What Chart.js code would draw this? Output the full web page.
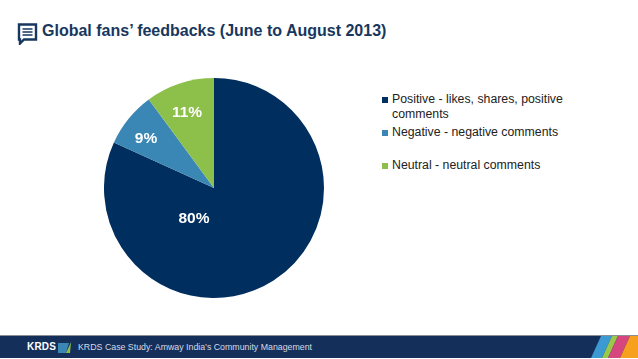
<!DOCTYPE html>
<html>
<head>
<meta charset="utf-8">
<title>Global fans' feedbacks</title>
<script src="https://cdn.jsdelivr.net/npm/chart.js@4"></script>
<style>
    html, body { margin: 0; padding: 0; background: #fff; }
    body { width: 638px; height: 359px; position: relative; overflow: hidden; font-family: "Liberation Sans", Arial, sans-serif; }
    #pie-wrap { position: absolute; left: 104px; top: 78px; width: 220px; height: 220px; }
    #title { position: absolute; left: 42px; top: 22px; font-size: 16px; font-weight: bold; color: #17375e; white-space: nowrap; }
    #icon { position: absolute; left: 17px; top: 23px; }
    #legend { position: absolute; left: 392px; top: 0; width: 190px; font-size: 12.3px; line-height: 15px; color: #222; }
    #legend div { position: absolute; left: 0; width: 180px; }
    #legend i { position: absolute; left: -10px; top: 5px; width: 6px; height: 6px; }
    #footer { position: absolute; left: 0; top: 335px; width: 638px; height: 23px; background: #152f5b; border-top: 1px solid #8a8f99; box-sizing: border-box; }
    #footer .logo { position: absolute; left: 27px; top: 5px; font-size: 10px; font-weight: bold; color: #fff; letter-spacing: .2px; }
    #footer .note { position: absolute; left: 78px; top: 6px; font-size: 8.8px; color: #d5dae4; white-space: nowrap; }
    #footer svg { position: absolute; left: 0; top: 0; }
</style>
</head>
<body>
<svg id="icon" width="21" height="22" viewBox="0 0 21 22">
    <path d="M2 1.5h17v15H7l-4 4v-4H2z" fill="none" stroke="#17375e" stroke-width="2.4"/>
    <path d="M5.5 6h10M5.5 9h10M5.5 12h10" stroke="#17375e" stroke-width="1.6"/>
</svg>
<div id="title">Global fans’ feedbacks (June to August 2013)</div>
<div id="pie-wrap"><canvas id="pie"></canvas></div>
<div id="legend"></div>
<div id="footer">
    <svg width="638" height="22" viewBox="0 0 638 22">
        <path d="M58 7h11l-3 10H58z" fill="#3a87b5"/>
        <path d="M66 17l5-11-1 11z" fill="#8cc04b"/>
        <path d="M591 22l10-22h11l-10 22z" fill="#3a9ad1"/>
        <path d="M602 22l10-22h6l-10 22z" fill="#9ac84a"/>
        <path d="M608 22l10-22h12l-10 22z" fill="#d6467f"/>
        <path d="M620 22l10-22h8v22z" fill="#f7a01d"/>
    </svg>
    <span class="logo">KRDS</span>
    <span class="note">KRDS Case Study: Amway India’s Community Management</span>
</div>

<script>
    const categories = ['Positive - likes, shares, positive comments', 'Negative - negative comments', 'Neutral - neutral comments'];
    // slice sizes as drawn, they differ a bit from the printed percentages
    const sliceValues = [81.8, 8.1, 10.1];
    const printedLabels = ['80%', '9%', '11%'];
    const colors = ['#002e5f', '#3a87b5', '#8cc04b'];

    // label offsets from the pie centre, the 80% one does not sit on the slice middle
    const labelOffsets = [[-20, 31], [-68, -49], [-27, -75]];
    const legendTops = [92, 125, 158];

    const sliceLabels = {
        id: 'sliceLabels',
        afterDatasetsDraw(chart) {
            let arc = chart.getDatasetMeta(0).data[0];
            let ctx = chart.ctx;
            ctx.save();
            ctx.font = 'bold 15.5px "Liberation Sans"';
            ctx.fillStyle = '#fff';
            ctx.textAlign = 'center';
            ctx.textBaseline = 'middle';
            for (let i in printedLabels) {
                ctx.fillText(printedLabels[i], arc.x + labelOffsets[i][0], arc.y + labelOffsets[i][1]);
            }
            ctx.restore();
        }
    };

    new Chart(document.getElementById('pie'), {
        type: 'pie',
        data: {
            labels: categories,
            datasets: [{
                data: sliceValues,
                backgroundColor: colors,
                borderWidth: 0,
            }],
        },
        options: {
            animation: false,
            responsive: true,
            maintainAspectRatio: false,
            plugins: {
                legend: { display: false },
                tooltip: { enabled: false },
            },
        },
        plugins: [sliceLabels],
    });

    let legend = document.getElementById('legend');
    for (let i in categories) {
        let row = document.createElement('div');
        row.style.top = legendTops[i] + 'px';
        row.innerHTML = '<i style="background:' + colors[i] + '"></i>' + categories[i];
        legend.appendChild(row);
    }
</script>
</body>
</html>
